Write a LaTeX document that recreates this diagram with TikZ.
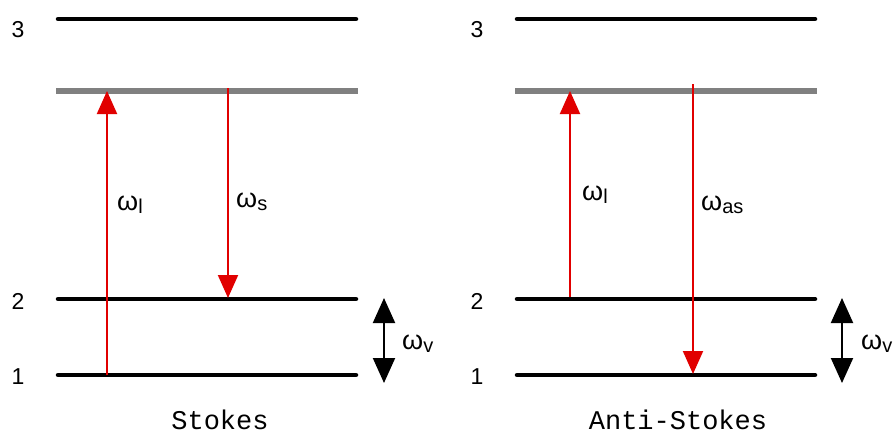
\documentclass[tikz,border=0pt]{standalone}
\usepackage{fontspec}
\setmainfont{Liberation Sans}
\newfontfamily\monofont{Liberation Mono}
\usetikzlibrary{arrows.meta}
\definecolor{arrred}{RGB}{225,0,0}
\definecolor{virtgray}{RGB}{128,128,128}
\tikzset{
  level/.style={line width=4.5pt, line cap=round, black},
  virtual/.style={line width=5.5pt, virtgray},
  photon/.style={line width=2pt, arrred, -{Triangle[width=20pt,length=23pt]}},
  vib/.style={line width=2pt, black, {Triangle[width=22pt,length=25pt]}-{Triangle[width=22pt,length=25pt]}},
  numlabel/.style={inner sep=0pt, font=\fontsize{23}{26}\selectfont},
  wlabel/.style={inner sep=0pt, anchor=west, font=\fontsize{27}{30}\selectfont},
  title/.style={inner sep=0pt, anchor=base, text depth=0pt, font=\monofont\fontsize{27}{30}\selectfont}
}
\newcommand{\wsub}[1]{ω\raisebox{-3pt}{\fontsize{20}{22}\selectfont #1}}
\begin{document}
\begin{tikzpicture}[x=1pt,y=-1pt]
\useasboundingbox (0,0) rectangle (894,434);
% ---- Stokes panel ----
\coordinate (L3a) at (58,19);  \coordinate (L3b) at (356,19);
\coordinate (LVa) at (56,91);  \coordinate (LVb) at (358,91);
\coordinate (L2a) at (58,299); \coordinate (L2b) at (356,299);
\coordinate (L1a) at (58,375); \coordinate (L1b) at (356,375);
\draw[level] (L3a) -- (L3b);
\draw[virtual] (LVa) -- (LVb);
\draw[level] (L2a) -- (L2b);
\draw[level] (L1a) -- (L1b);
\node[numlabel] (n3l) at (18,30) {3};
\node[numlabel] (n2l) at (18,301) {2};
\node[numlabel] (n1l) at (18,377) {1};
\coordinate (upLs) at (107,375); \coordinate (upLe) at (107,91);
\coordinate (dnLs) at (228,88);  \coordinate (dnLe) at (228,298);
\draw[photon] (upLs) -- (upLe);
\draw[photon] (dnLs) -- (dnLe);
\node[wlabel] (wlL) at (117,205) {\wsub{l}};
\node[wlabel] (wsL) at (236,202) {\wsub{s}};
\coordinate (vLt) at (384,298); \coordinate (vLb) at (384,383);
\draw[vib] (vLt) -- (vLb);
\node[wlabel] (wvL) at (402,344) {\wsub{v}};
\node[title] (stokes) at (220,429) {Stokes};
% ---- Anti-Stokes panel ----
\coordinate (R3a) at (517,19);  \coordinate (R3b) at (815,19);
\coordinate (RVa) at (515,91);  \coordinate (RVb) at (817,91);
\coordinate (R2a) at (517,299); \coordinate (R2b) at (815,299);
\coordinate (R1a) at (517,375); \coordinate (R1b) at (815,375);
\draw[level] (R3a) -- (R3b);
\draw[virtual] (RVa) -- (RVb);
\draw[level] (R2a) -- (R2b);
\draw[level] (R1a) -- (R1b);
\node[numlabel] (n3r) at (477,30) {3};
\node[numlabel] (n2r) at (477,301) {2};
\node[numlabel] (n1r) at (477,377) {1};
\coordinate (upRs) at (570,297); \coordinate (upRe) at (570,91);
\coordinate (dnRs) at (693,84);  \coordinate (dnRe) at (693,374);
\draw[photon] (upRs) -- (upRe);
\draw[photon] (dnRs) -- (dnRe);
\node[wlabel] (wlR) at (582,195) {\wsub{l}};
\node[wlabel] (wasR) at (701,205) {\wsub{as}};
\coordinate (vRt) at (842,298); \coordinate (vRb) at (842,383);
\draw[vib] (vRt) -- (vRb);
\node[wlabel] (wvR) at (861,344) {\wsub{v}};
\node[title] (antistokes) at (678,429) {Anti-Stokes};
\end{tikzpicture}
\end{document}
